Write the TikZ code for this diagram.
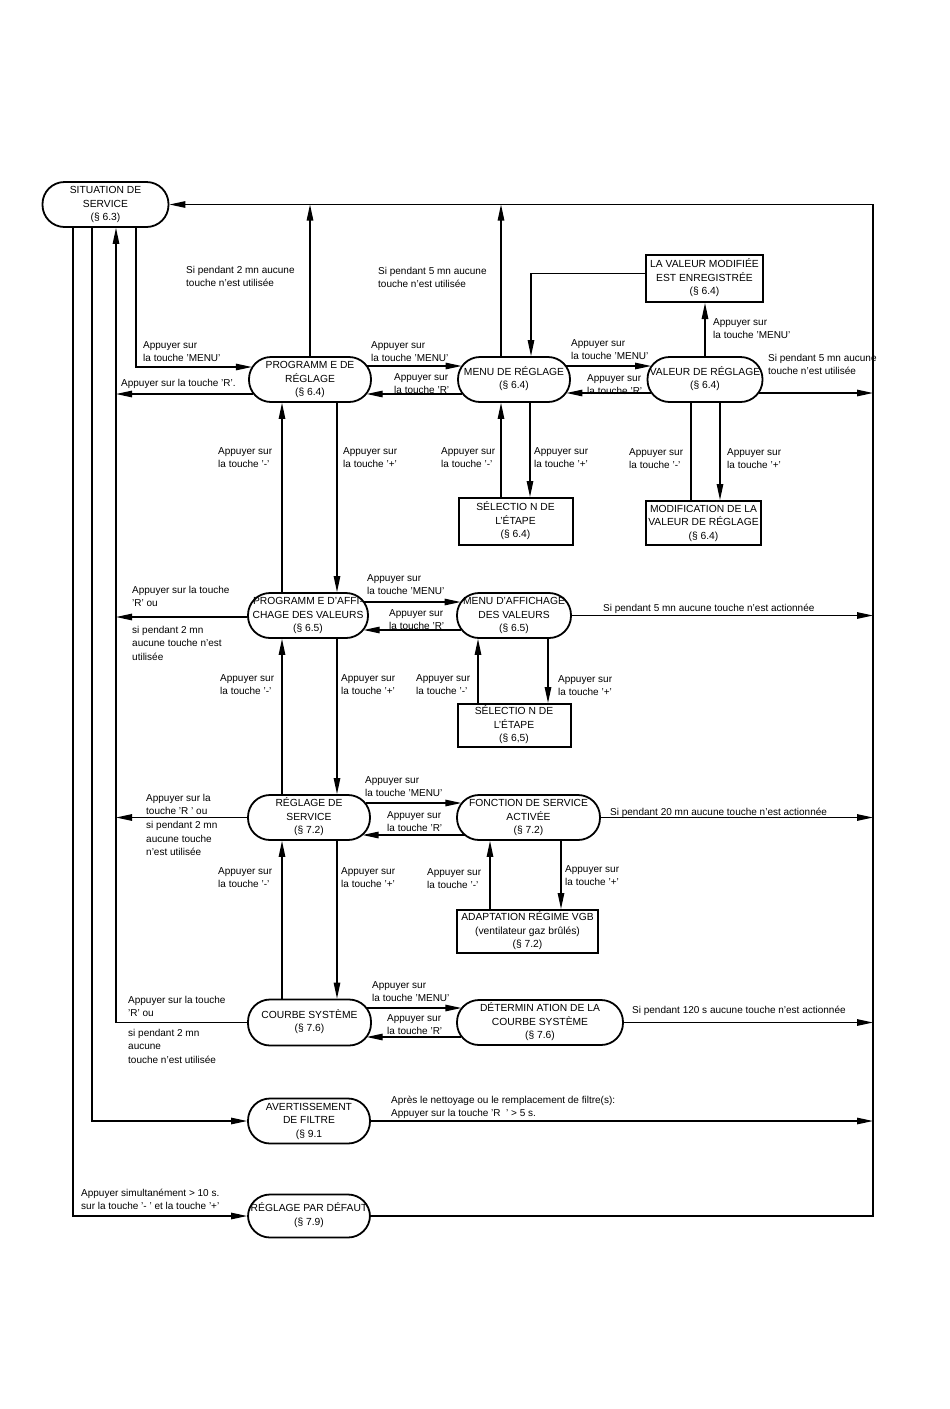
\documentclass[tikz,border=0pt]{standalone}
\usepackage{fontspec}
\setmainfont{Liberation Sans}
\usetikzlibrary{arrows.meta,calc}
\newcommand\ctx[1]{\makebox[0pt]{\begin{tabular}{@{}c@{}}#1\end{tabular}}}
\newcommand\lbx[1]{\begin{tabular}[t]{@{}l@{}}#1\end{tabular}}
\begin{document}
\begin{tikzpicture}[x=1pt,y=-1pt,
  pill/.style={draw, line width=1.8pt, rounded corners=22pt, minimum height=45pt, inner sep=0pt, fill=white, font=\fontsize{10.3}{13.5}\selectfont},
  box/.style={draw, line width=2pt, inner sep=0pt, fill=white, font=\fontsize{10.3}{13.5}\selectfont},
  lab/.style={anchor=base west, inner sep=0pt, font=\fontsize{10}{13.7}\selectfont},
  con/.style={line width=1.2pt},
  arr/.style={con, -{Triangle[length=16pt,width=6.5pt]}},
]
\fill[white] (0,0) rectangle (950,1409);
\useasboundingbox (0,0) rectangle (950,1409);

% ---------- nodes ----------
\node[pill, minimum width=126pt] (sit) at (105.5,204.5) {\ctx{SITUATION DE\\SERVICE\\(§ 6.3)}};
\node[pill, minimum width=122pt] (prog) at (310,379.5) {\ctx{PROGRAMM E DE\\RÉGLAGE\\(§ 6.4)}};
\node[pill, minimum width=112pt] (menu) at (514,379.5) {\ctx{MENU DE RÉGLAGE\\(§ 6.4)}};
\node[box, minimum width=117pt, minimum height=47pt] (valmod) at (704.5,278.5) {\ctx{LA VALEUR MODIFIÉE\\EST ENREGISTRÉE\\(§ 6.4)}};
\node[pill, minimum width=115pt] (val) at (705,379.5) {\ctx{VALEUR DE RÉGLAGE\\(§ 6.4)}};
\node[box, minimum width=114pt, minimum height=47pt] (sel1) at (515.5,521.5) {\ctx{SÉLECTIO N DE\\L'ÉTAPE\\(§ 6.4)}};
\node[box, minimum width=115pt, minimum height=44pt] (modif) at (703.5,523) {\ctx{MODIFICATION DE LA\\VALEUR DE RÉGLAGE\\(§ 6.4)}};
\node[pill, minimum width=120pt] (progaff) at (308,615.5) {\ctx{PROGRAMM E D'AFFI-\\CHAGE DES VALEURS\\(§ 6.5)}};
\node[pill, minimum width=114pt] (menuaff) at (514,615.5) {\ctx{MENU D'AFFICHAGE\\DES VALEURS\\(§ 6.5)}};
\node[box, minimum width=113pt, minimum height=43pt] (sel2) at (514,725.5) {\ctx{SÉLECTIO N DE\\L'ÉTAPE\\(§ 6,5)}};
\node[pill, minimum width=122pt] (regserv) at (309,817.5) {\ctx{RÉGLAGE DE\\SERVICE\\(§ 7.2)}};
\node[pill, minimum width=143pt] (fonct) at (528.5,817.5) {\ctx{FONCTION DE SERVICE\\ACTIVÉE\\(§ 7.2)}};
\node[box, minimum width=141pt, minimum height=43pt] (adapt) at (527.5,931.5) {\ctx{ADAPTATION RÉGIME VGB\\(ventilateur gaz brûlés)\\(§ 7.2)}};
\node[pill, minimum width=123pt, minimum height=46pt] (courbe) at (309.5,1022.5) {\ctx{COURBE SYSTÈME\\(§ 7.6)}};
\node[pill, minimum width=166pt] (determ) at (540,1022.5) {\ctx{DÉTERMIN ATION DE LA\\COURBE SYSTÈME\\(§ 7.6)}};
\node[pill, minimum width=122pt] (avert) at (309,1121) {\ctx{AVERTISSEMENT\\DE FILTRE\\(§ 9.1}};
\node[pill, minimum width=122pt, minimum height=43pt] (defaut) at (309,1216) {\ctx{RÉGLAGE PAR DÉFAUT\\(§ 7.9)}};

% ---------- bus coordinates ----------
\coordinate (xA) at (73,0);
\coordinate (xB) at (92,0);
\coordinate (xC) at (116,0);
\coordinate (xD) at (136,0);
\coordinate (xR) at (873,0);

% ---------- left buses ----------
\draw[arr] (sit.south -| xA) -- (xA |- defaut.west) -- (defaut.west);
\draw[arr] (sit.south -| xB) -- (xB |- avert.west) -- (avert.west);
\draw[arr] (courbe.west) -- (courbe.west -| xC) -- (sit.south -| xC);
\coordinate (p1) at ($(prog.west)+(3.8,-12.5)$);
\draw[arr] (sit.south -| xD) -- (xD |- p1) -- (p1);
\coordinate (p2) at ($(prog.west)+(5.3,14.5)$);
\draw[arr] (p2) -- (p2 -| xC);

% ---------- right border and top ----------
\draw[arr] (defaut.east) -- (defaut.east -| xR) -- (xR |- sit.east) -- (sit.east);
\draw[arr] (prog.north) -- (prog.north |- sit.east);
\coordinate (m1) at ($(menu.north)+(-13,0)$);
\draw[arr] (m1) -- (m1 |- sit.east);
\coordinate (m2) at ($(menu.north)+(17,0)$);
\coordinate (v1) at ($(valmod.west)+(0,-5)$);
\draw[arr] (v1) -- (v1 -| m2) -- (m2);
\draw[arr] (val.north) -- (val.north |- valmod.south);

% ---------- row 1 horizontals ----------
\draw[arr] ($(prog.east)+(-4.5,-13.5)$) -- ($(menu.west)+(4.5,-13.5)$);
\draw[arr] ($(menu.west)+(5.3,14.5)$) -- ($(prog.east)+(-5.3,14.5)$);
\draw[arr] ($(menu.east)+(-4.5,-13.5)$) -- ($(val.west)+(4.5,-13.5)$);
\draw[arr] ($(val.west)+(4.5,13.5)$) -- ($(menu.east)+(-4.5,13.5)$);
\coordinate (v2) at ($(val.east)+(-4.5,13.5)$);
\draw[arr] (v2) -- (v2 -| xR);

% ---------- row 1 verticals ----------
\coordinate (a1) at ($(progaff.north)+(-26,0)$);
\draw[arr] (a1) -- (a1 |- prog.south);
\coordinate (a2) at ($(prog.south)+(27,0)$);
\draw[arr] (a2) -- (a2 |- progaff.north);
\coordinate (s1) at ($(menu.south)+(-13,0)$);
\draw[arr] (s1 |- sel1.north) -- (s1);
\coordinate (s2) at ($(menu.south)+(16,0)$);
\draw[arr] (s2) -- (s2 |- sel1.north);
\coordinate (d1) at ($(val.south)+(-14,0)$);
\draw[con] (d1 |- modif.north) -- (d1);
\coordinate (d2) at ($(val.south)+(15,0)$);
\draw[arr] (d2) -- (d2 |- modif.north);

% ---------- row 2 ----------
\coordinate (p3) at ($(progaff.west)+(0,1.5)$);
\draw[arr] (p3) -- (p3 -| xC);
\draw[arr] ($(progaff.east)+(-4.5,-13.5)$) -- ($(menuaff.west)+(4.5,-13.5)$);
\draw[arr] ($(menuaff.west)+(5.3,14.5)$) -- ($(progaff.east)+(-5.3,14.5)$);
\draw[arr] (menuaff.east) -- (menuaff.east -| xR);
\coordinate (s3) at ($(menuaff.south)+(-36,0)$);
\draw[arr] (s3 |- sel2.north) -- (s3);
\coordinate (s4) at ($(menuaff.south)+(34,0)$);
\draw[arr] (s4) -- (s4 |- sel2.north);
\coordinate (a3) at ($(regserv.north)+(-27,0)$);
\draw[arr] (a3) -- (a3 |- progaff.south);
\coordinate (a4) at ($(progaff.south)+(29,0)$);
\draw[arr] (a4) -- (a4 |- regserv.north);

% ---------- row 3 ----------
\draw[arr] (regserv.west) -- (regserv.west -| xC);
\draw[arr] ($(regserv.east)+(-5.3,-14.5)$) -- ($(fonct.west)+(5.3,-14.5)$);
\draw[arr] ($(fonct.west)+(8.4,17.5)$) -- ($(regserv.east)+(-8.4,17.5)$);
\draw[arr] (fonct.east) -- (fonct.east -| xR);
\coordinate (s5) at ($(fonct.south)+(-38.5,0)$);
\draw[arr] (s5 |- adapt.north) -- (s5);
\coordinate (s6) at ($(fonct.south)+(32.5,0)$);
\draw[arr] (s6) -- (s6 |- adapt.north);
\coordinate (a5) at ($(courbe.north)+(-27.5,0)$);
\draw[arr] (a5) -- (a5 |- regserv.south);
\coordinate (a6) at ($(regserv.south)+(28,0)$);
\draw[arr] (a6) -- (a6 |- courbe.north);

% ---------- row 4 ----------
\draw[arr] ($(courbe.east)+(-5.3,-14.5)$) -- ($(determ.west)+(5.3,-14.5)$);
\draw[arr] ($(determ.west)+(5.3,14.5)$) -- ($(courbe.east)+(-5.3,14.5)$);
\draw[arr] (determ.east) -- (determ.east -| xR);
\draw[arr] (avert.east) -- (avert.east -| xR);

% ---------- labels ----------
\node[lab] (l1) at (186,273) {\lbx{Si pendant 2 mn aucune\\touche n'est utilisée}};
\node[lab] (l2) at (143,348) {\lbx{Appuyer sur\\la touche 'MENU'}};
\node[lab] (l3) at (121,386) {\lbx{Appuyer sur la touche 'R'.}};
\node[lab] (l4) at (378,274) {\lbx{Si pendant 5 mn aucune\\touche n'est utilisée}};
\node[lab] (l5) at (371,348) {\lbx{Appuyer sur\\la touche 'MENU'}};
\node[lab] (l6) at (394,380) {\lbx{Appuyer sur\\la touche 'R'}};
\node[lab] (l7) at (571,346) {\lbx{Appuyer sur\\la touche 'MENU'}};
\node[lab] (l8) at (587,381) {\lbx{Appuyer sur\\la touche 'R'}};
\node[lab] (l9) at (713,325) {\lbx{Appuyer sur\\la touche 'MENU'}};
\node[lab] (l10) at (768,361) {\lbx{Si pendant 5 mn aucune\\touche n'est utilisée}};
\node[lab] (l11) at (218,454) {\lbx{Appuyer sur\\la touche '-'}};
\node[lab] (l12) at (343,454) {\lbx{Appuyer sur\\la touche '+'}};
\node[lab] (l13) at (441,454) {\lbx{Appuyer sur\\la touche '-'}};
\node[lab] (l14) at (534,454) {\lbx{Appuyer sur\\la touche '+'}};
\node[lab] (l15) at (629,455) {\lbx{Appuyer sur\\la touche '-'}};
\node[lab] (l16) at (727,455) {\lbx{Appuyer sur\\la touche '+'}};
\node[lab] (l17) at (132,593) {\lbx{Appuyer sur la touche\\'R' ou}};
\node[lab] (l18) at (132,633) {\lbx{si pendant 2 mn\\aucune touche n'est\\utilisée}};
\node[lab] (l19) at (367,581) {\lbx{Appuyer sur\\la touche 'MENU'}};
\node[lab] (l20) at (389,616) {\lbx{Appuyer sur\\la touche 'R'}};
\node[lab] (l21) at (603,611) {Si pendant 5 mn aucune touche n'est actionnée};
\node[lab] (l22) at (220,681) {\lbx{Appuyer sur\\la touche '-'}};
\node[lab] (l23) at (341,681) {\lbx{Appuyer sur\\la touche '+'}};
\node[lab] (l24) at (416,681) {\lbx{Appuyer sur\\la touche '-'}};
\node[lab] (l25) at (558,682) {\lbx{Appuyer sur\\la touche '+'}};
\node[lab] (l26) at (146,801) {\lbx{Appuyer sur la\\touche 'R ' ou\\si pendant 2 mn\\aucune touche\\n'est utilisée}};
\node[lab] (l27) at (365,783) {\lbx{Appuyer sur\\la touche 'MENU'}};
\node[lab] (l28) at (387,818) {\lbx{Appuyer sur\\la touche 'R'}};
\node[lab] (l29) at (610,815) {Si pendant 20 mn aucune touche n'est actionnée};
\node[lab] (l30) at (218,874) {\lbx{Appuyer sur\\la touche '-'}};
\node[lab] (l31) at (341,874) {\lbx{Appuyer sur\\la touche '+'}};
\node[lab] (l32) at (427,875) {\lbx{Appuyer sur\\la touche '-'}};
\node[lab] (l33) at (565,872) {\lbx{Appuyer sur\\la touche '+'}};
\node[lab] (l34) at (128,1003) {\lbx{Appuyer sur la touche\\'R' ou}};
\node[lab] (l35) at (128,1036) {\lbx{si pendant 2 mn\\aucune\\touche n'est utilisée}};
\node[lab] (l36) at (372,988) {\lbx{Appuyer sur\\la touche 'MENU'}};
\node[lab] (l37) at (387,1021) {\lbx{Appuyer sur\\la touche 'R'}};
\node[lab] (l38) at (632,1013) {Si pendant 120 s aucune touche n'est actionnée};
\node[lab] (l39) at (391,1103) {\lbx{Après le nettoyage ou le remplacement de filtre(s):\\Appuyer sur la touche 'R\ \ ' > 5 s.}};
\node[lab] (l40) at (81,1196) {\lbx{Appuyer simultanément > 10 s.\\sur la touche '- ' et la touche '+'}};
\end{tikzpicture}
\end{document}
